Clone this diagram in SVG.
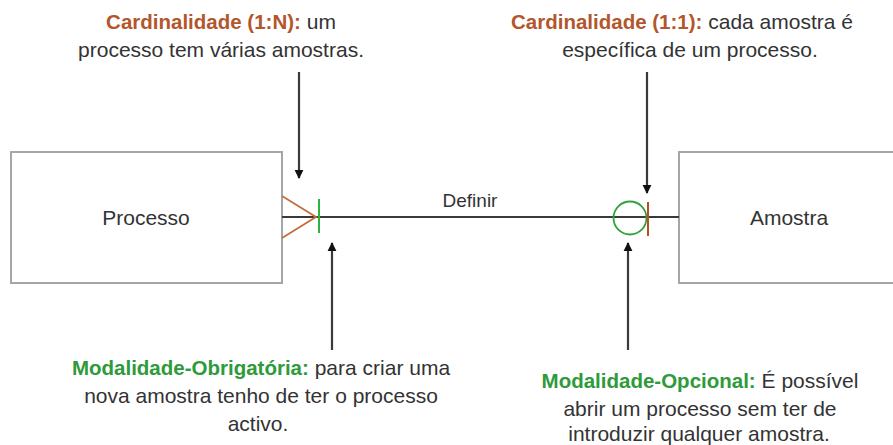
<svg xmlns="http://www.w3.org/2000/svg" width="893" height="445" viewBox="0 0 893 445">
<style>
.box{fill:#fff;stroke:#a6a6a6;stroke-width:2}
.lbl{font-family:"Liberation Sans",Arial,sans-serif;font-size:21px;fill:#333;text-anchor:middle}
.ann{font-family:"Liberation Sans",Arial,sans-serif;font-size:21px;fill:#333;text-anchor:middle}
.b{font-weight:bold;font-size:20.5px}
.card{fill:#b3562c}
.mod{fill:#2e9a3a}
.arr{stroke:#3a3a3a;stroke-width:2.2;fill:none;marker-end:url(#ah)}
</style>
<defs>
<marker id="ah" viewBox="0 0 10 10" refX="9" refY="5" markerWidth="4" markerHeight="5" markerUnits="strokeWidth" orient="auto">
<path d="M0,0 L10,5 L0,10 Z" fill="#111"/>
</marker>
</defs>
<g id="processo">
<rect class="box" x="11" y="152" width="271" height="131"/>
<text class="lbl" x="146" y="225">Processo</text>
</g>
<g id="amostra">
<rect class="box" x="679" y="152" width="230" height="131"/>
<text class="lbl" x="789" y="225">Amostra</text>
</g>
<g id="connectors">
<line x1="282" y1="217" x2="679" y2="217" stroke="#3a3a3a" stroke-width="1.8"/>
<text class="lbl" x="470" y="207" style="font-size:19px">Definir</text>
<polyline points="282,196 316,217 282,238" fill="none" stroke="#c66d3c" stroke-width="1.8"/>
<line x1="319" y1="199" x2="319" y2="233" stroke="#2db33f" stroke-width="2"/>
<circle cx="630" cy="218" r="16.5" fill="none" stroke="#2ea33c" stroke-width="1.8"/>
<line x1="648" y1="202" x2="648" y2="236" stroke="#b84c22" stroke-width="2"/>
<line class="arr" x1="299" y1="72" x2="299" y2="178"/>
<line class="arr" x1="647" y1="72" x2="647" y2="193"/>
<line class="arr" x1="332" y1="350" x2="332" y2="243"/>
<line class="arr" x1="628" y1="350" x2="628" y2="243"/>
</g>
<g id="ann-card-1n">
<text class="ann" x="221" y="29"><tspan class="b card">Cardinalidade (1:N):</tspan> um</text>
<text class="ann" x="221" y="57">processo tem várias amostras.</text>
</g>
<g id="ann-card-11">
<text class="ann" x="682" y="29"><tspan class="b card">Cardinalidade (1:1):</tspan> cada amostra é</text>
<text class="ann" x="690" y="57">específica de um processo.</text>
</g>
<g id="ann-mod-obr">
<text class="ann" x="261" y="375"><tspan class="b mod">Modalidade-Obrigatória:</tspan> para criar uma</text>
<text class="ann" x="261" y="403">nova amostra tenho de ter o processo</text>
<text class="ann" x="258" y="431">activo.</text>
</g>
<g id="ann-mod-opc">
<text class="ann" x="700" y="388"><tspan class="b mod">Modalidade-Opcional:</tspan> É possível</text>
<text class="ann" x="700" y="416">abrir um processo sem ter de</text>
<text class="ann" x="699" y="441">introduzir qualquer amostra.</text>
</g>
</svg>
